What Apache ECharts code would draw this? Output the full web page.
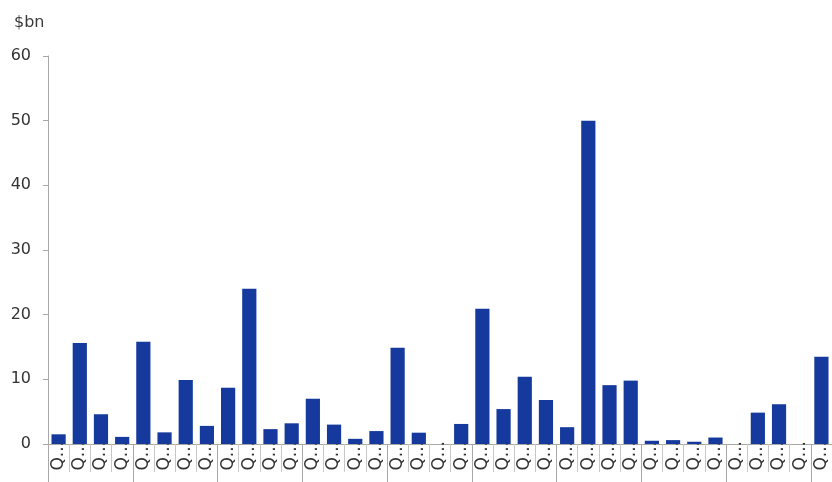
<!DOCTYPE html>
<html>
<head>
<meta charset="utf-8">
<script src="https://cdn.jsdelivr.net/npm/echarts@6/dist/echarts.min.js"></script>
<style>
  html, body { margin: 0; padding: 0; background: #fff; }
  #chart { width: 832px; height: 482px; }
</style>
</head>
<body>
<div id="chart"></div>
<script>
// quarter labels (only "Q..." survives the truncation in the picture)
const quarters = [
  'Q1 2004', 'Q2 2004', 'Q3 2004', 'Q4 2004',
  'Q1 2005', 'Q2 2005', 'Q3 2005', 'Q4 2005',
  'Q1 2006', 'Q2 2006', 'Q3 2006', 'Q4 2006',
  'Q1 2007', 'Q2 2007', 'Q3 2007', 'Q4 2007',
  'Q1 2008', 'Q2 2008', 'Q3 2008', 'Q4 2008',
  'Q1 2009', 'Q2 2009', 'Q3 2009', 'Q4 2009',
  'Q1 2010', 'Q2 2010', 'Q3 2010', 'Q4 2010',
  'Q1 2011', 'Q2 2011', 'Q3 2011', 'Q4 2011',
  'Q1 2012', 'Q2 2012', 'Q3 2012', 'Q4 2012',
  'Q1 2013'
];

// $bn per quarter
const values = [
  1.5, 15.6, 4.6, 1.1,
  15.8, 1.8, 9.9, 2.8,
  8.7, 24.0, 2.3, 3.2,
  7.0, 3.0, 0.8, 2.0,
  14.9, 1.75, 0, 3.1,
  20.9, 5.4, 10.4, 6.8,
  2.6, 50.0, 9.1, 9.8,
  0.5, 0.6, 0.35, 1.0,
  0, 4.85, 6.15, 0,
  13.5
];

const yTicks = [0, 10, 20, 30, 40, 50, 60];

const chart = echarts.init(document.getElementById('chart'));

chart.setOption({
  animation: false,
  textStyle: { fontFamily: 'DejaVu Sans, sans-serif' },
  title: {
    text: '$bn',
    left: 9,
    top: 10,
    textStyle: { fontSize: 16, fontWeight: 'normal', color: '#3a3a3a' }
  },
  grid: { left: 48, right: -8, top: 56, bottom: 38 },
  xAxis: [
    {
      type: 'category',
      data: quarters,
      axisLine: { lineStyle: { color: '#a8a8a8', width: 1 } },
      axisTick: { show: true, interval: 0, length: 28, lineStyle: { color: '#c8c8c8' } },
      axisLabel: {
        interval: 0,
        rotate: 90,
        margin: -3,
        fontSize: 17,
        color: '#333',
        width: 34,
        overflow: 'truncate',
        ellipsis: '...'
      }
    },
    {
      // year separators: every fourth tick runs longer
      type: 'category',
      data: quarters,
      position: 'bottom',
      axisLine: { show: false },
      axisTick: { show: true, interval: 3, length: 45, lineStyle: { color: '#a8a8a8' } },
      axisLabel: { show: false }
    }
  ],
  yAxis: {
    type: 'value',
    min: yTicks[0],
    max: yTicks[yTicks.length - 1],
    interval: 10,
    splitLine: { show: false },
    axisLine: { show: true, lineStyle: { color: '#a8a8a8' } },
    axisTick: { show: true, length: 5, lineStyle: { color: '#a8a8a8' } },
    axisLabel: { fontSize: 16, color: '#333', margin: 17 }
  },
  series: [
    {
      type: 'bar',
      xAxisIndex: 0,
      data: values,
      barCategoryGap: '33%',
      itemStyle: { color: '#15399c' }
    }
  ]
});
</script>
</body>
</html>
